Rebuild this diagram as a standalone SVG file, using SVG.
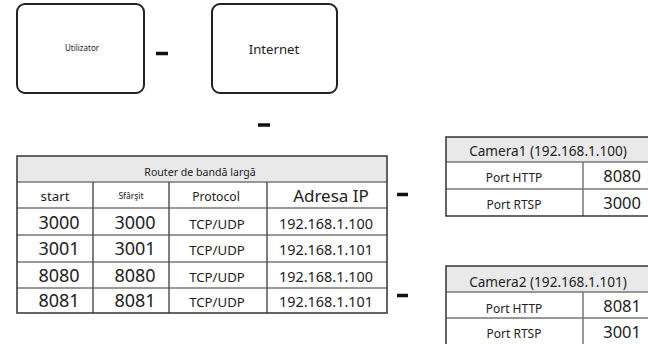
<svg xmlns="http://www.w3.org/2000/svg" width="648" height="344" viewBox="0 0 648 344">
<style>
text{font-family:"Noto Sans","Open Sans","DejaVu Sans",sans-serif;fill:#222;text-anchor:middle}
.box{fill:#fff;stroke:#222;stroke-width:2}
.hdr{fill:#e9e9e9}
.outer{fill:none;stroke:#333;stroke-width:1.5}
.in{stroke:#777;stroke-width:1.5}
.vin{stroke:#555;stroke-width:1.5}
.dash{stroke:#111;stroke-width:3.5}
</style>
<rect width="648" height="344" fill="#fff"/>
<g id="utilizator">
<rect class="box" x="17" y="4" width="127" height="89" rx="8"/>
<text x="82" y="51" font-size="8">Utilizator</text>
</g>
<g id="internet">
<rect class="box" x="212" y="4" width="125" height="89" rx="8"/>
<text x="274" y="54" font-size="13.2">Internet</text>
</g>
<g id="router">
<rect class="hdr" x="17" y="156" width="370" height="26"/>
<line class="in" x1="17" y1="182" x2="387" y2="182"/>
<line class="in" x1="17" y1="208" x2="387" y2="208"/>
<line class="in" x1="17" y1="235" x2="387" y2="235"/>
<line class="in" x1="17" y1="262" x2="387" y2="262"/>
<line class="in" x1="17" y1="288" x2="387" y2="288"/>
<line class="vin" x1="93" y1="182" x2="93" y2="313"/>
<line class="vin" x1="169" y1="182" x2="169" y2="313"/>
<line class="vin" x1="267" y1="182" x2="267" y2="313"/>
<rect class="outer" x="17" y="156" width="370" height="157"/>
<text x="200" y="176" font-size="10.6">Router de bandă largă</text>
<text x="55" y="201" font-size="13.3">start</text>
<text x="131" y="199" font-size="8.5">Sfârşit</text>
<text x="216" y="201" font-size="12.2">Protocol</text>
<text x="331" y="202" font-size="17">Adresa IP</text>
<g font-size="18">
<text x="59" y="229">3000</text><text x="135" y="229">3000</text>
<text x="59" y="255">3001</text><text x="135" y="255">3001</text>
<text x="59" y="282">8080</text><text x="135" y="282">8080</text>
<text x="59" y="307">8081</text><text x="135" y="307">8081</text>
</g>
<g font-size="13.2">
<text x="217" y="229">TCP/UDP</text>
<text x="217" y="255">TCP/UDP</text>
<text x="217" y="282">TCP/UDP</text>
<text x="217" y="307">TCP/UDP</text>
</g>
<g font-size="14.4">
<text x="326" y="229">192.168.1.100</text>
<text x="326" y="255">192.168.1.101</text>
<text x="326" y="282">192.168.1.100</text>
<text x="326" y="307">192.168.1.101</text>
</g>
</g>
<g id="camera1">
<rect class="hdr" x="446" y="137" width="204" height="25"/>
<line class="in" x1="446" y1="162" x2="650" y2="162"/>
<line class="in" x1="446" y1="189" x2="650" y2="189"/>
<line class="in" x1="583" y1="162" x2="583" y2="216"/>
<rect class="outer" x="446" y="137" width="204" height="79"/>
<text x="548" y="156" font-size="13.6">Camera1 (192.168.1.100)</text>
<text x="514" y="182" font-size="12">Port HTTP</text>
<text x="514" y="209" font-size="12">Port RTSP</text>
<text x="641" y="182" font-size="16.5" style="text-anchor:end">8080</text>
<text x="641" y="209" font-size="16.5" style="text-anchor:end">3000</text>
</g>
<g id="camera2">
<rect class="hdr" x="446" y="266" width="204" height="26"/>
<line class="in" x1="446" y1="292" x2="650" y2="292"/>
<line class="in" x1="446" y1="318" x2="650" y2="318"/>
<line class="in" x1="583" y1="292" x2="583" y2="344"/>
<rect class="outer" x="446" y="266" width="204" height="80"/>
<text x="548" y="287" font-size="13.6">Camera2 (192.168.1.101)</text>
<text x="514" y="313" font-size="12">Port HTTP</text>
<text x="514" y="338" font-size="12">Port RTSP</text>
<text x="641" y="312" font-size="16.5" style="text-anchor:end">8081</text>
<text x="641" y="338" font-size="16.5" style="text-anchor:end">3001</text>
</g>
<g id="connectors">
<line class="dash" x1="156" y1="53.5" x2="168" y2="53.5"/>
<line class="dash" x1="258" y1="125" x2="270" y2="125"/>
<line class="dash" x1="397" y1="194.5" x2="408" y2="194.5"/>
<line class="dash" x1="397" y1="295.5" x2="408" y2="295.5"/>
</g>
</svg>
